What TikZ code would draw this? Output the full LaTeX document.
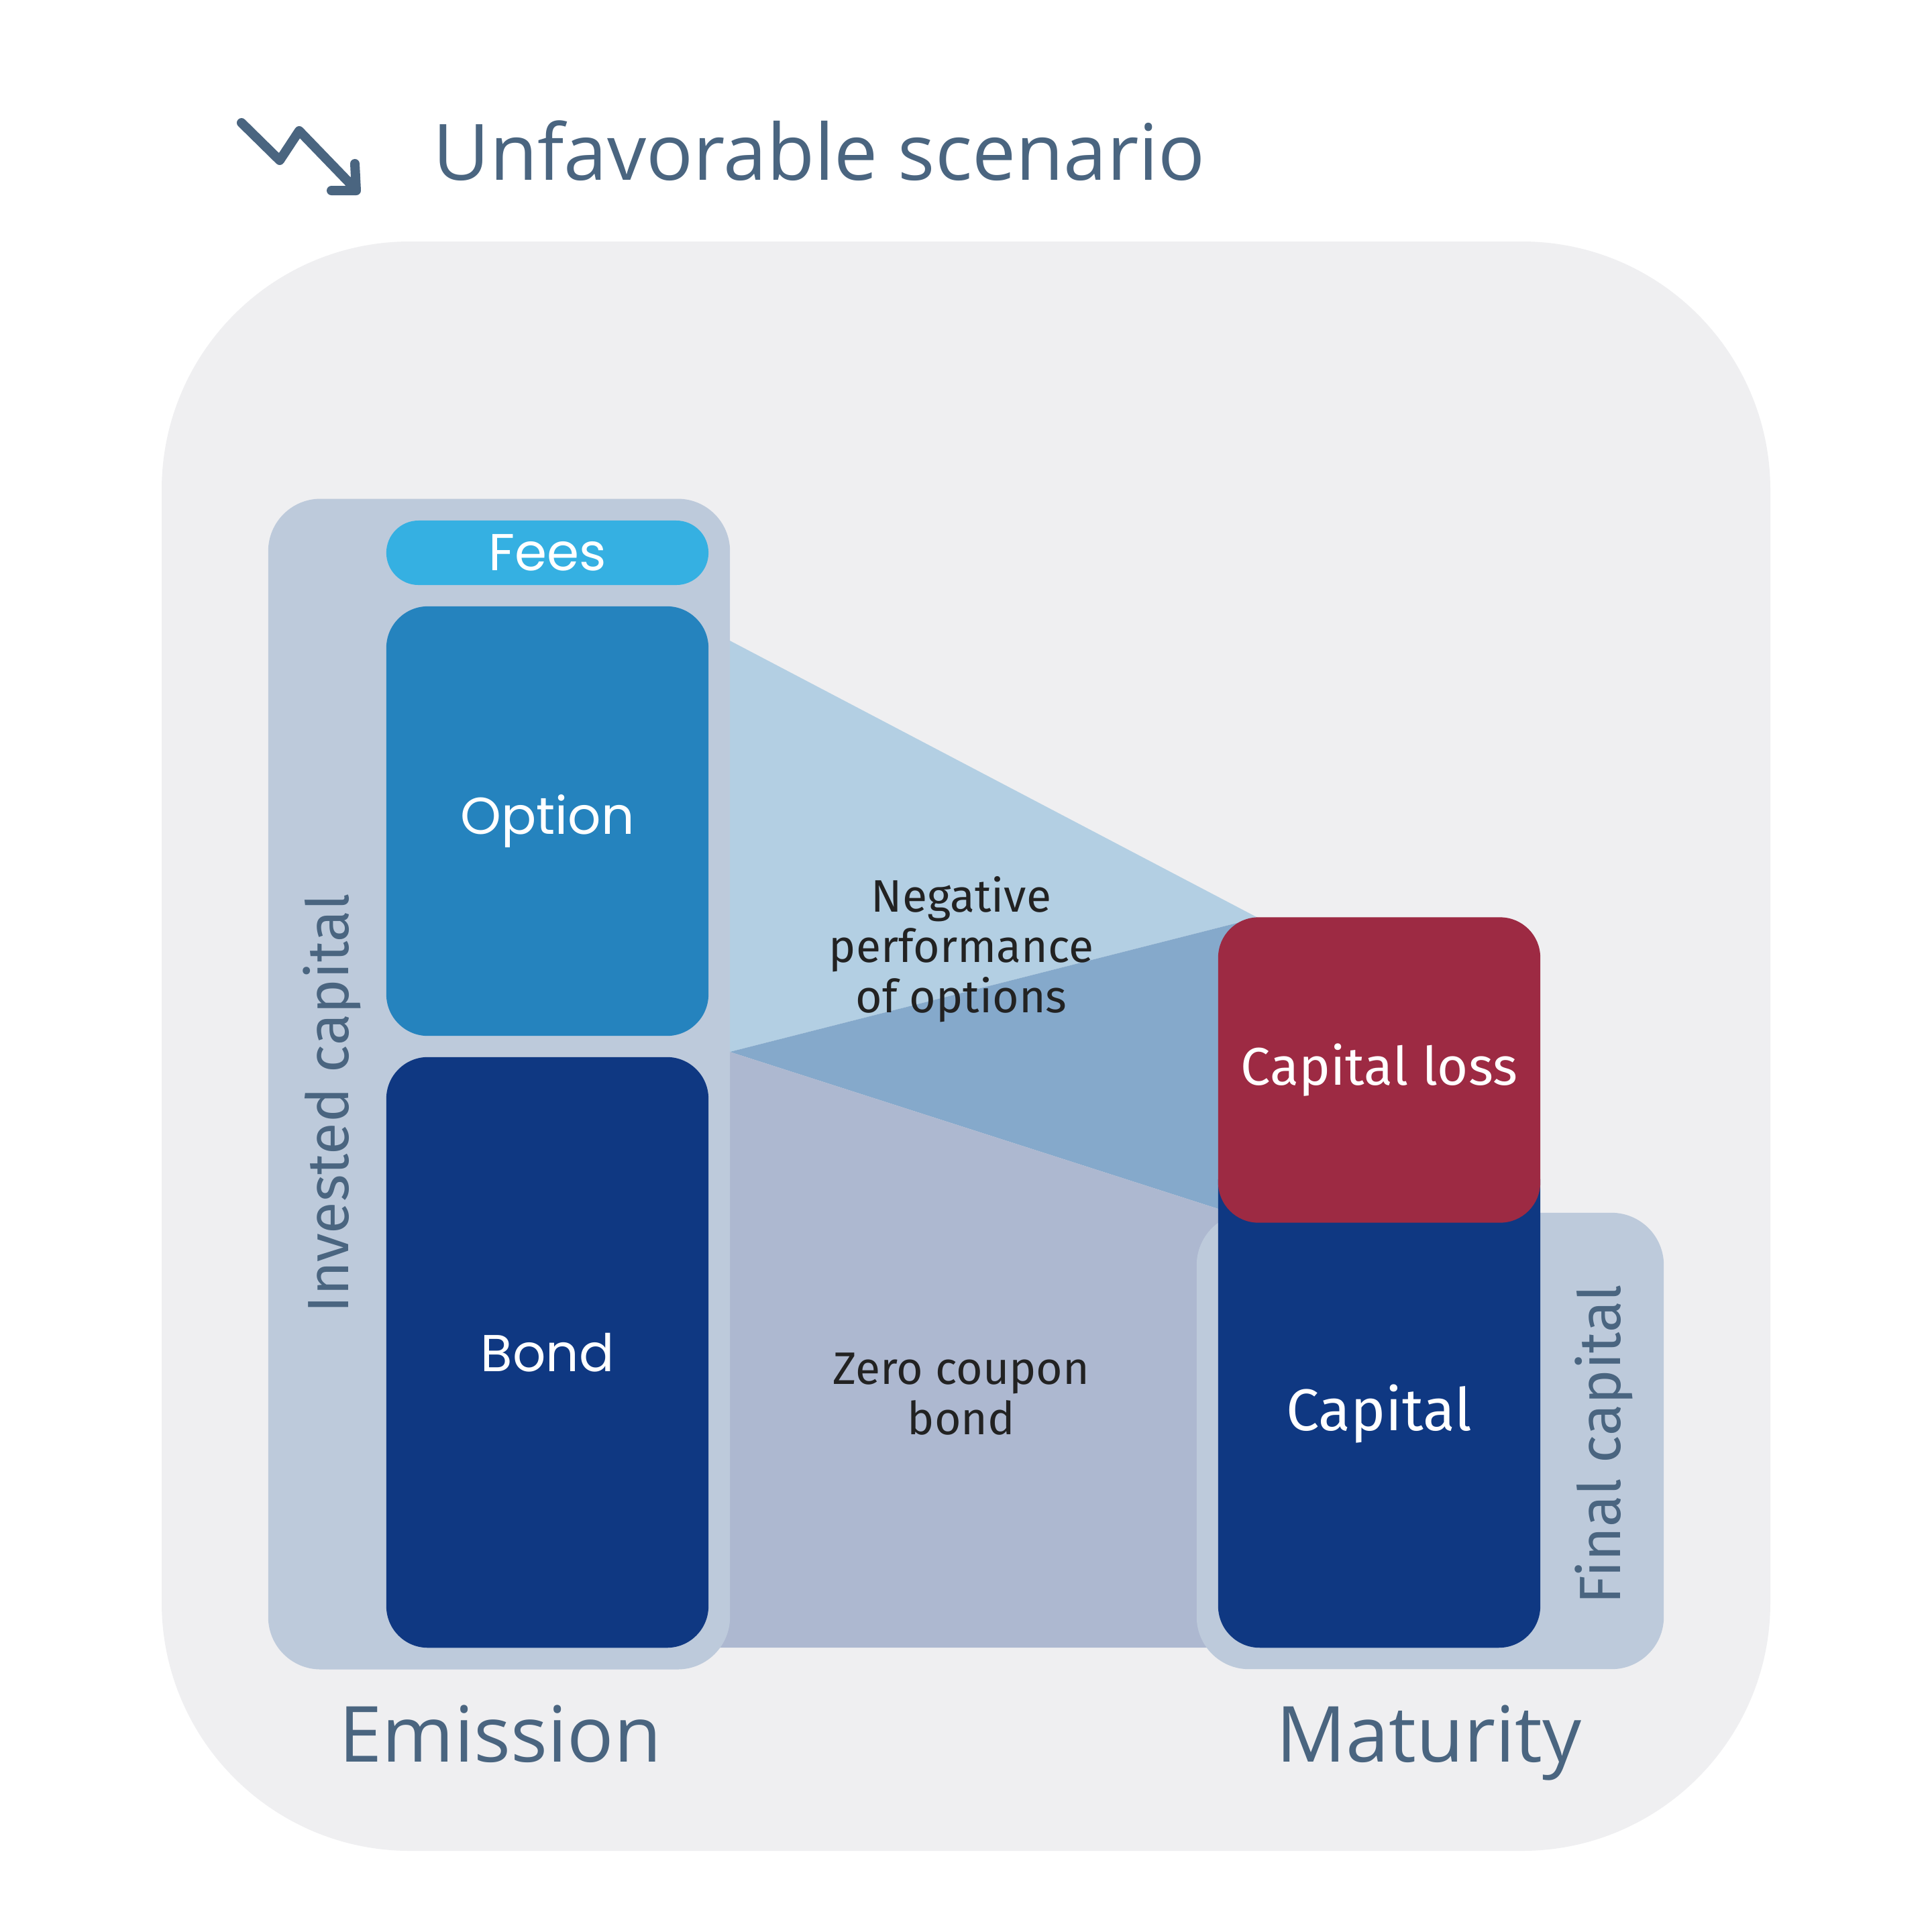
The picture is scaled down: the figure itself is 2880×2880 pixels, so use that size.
\documentclass[tikz,border=0pt]{standalone}
\usepackage{fontspec}
\setmainfont{Fira Sans}
\newfontfamily\headfont{Open Sans}
\newfontfamily\boxfont{Poppins}
\usetikzlibrary{positioning}
\definecolor{outerbg}{HTML}{EFEFF1}
\definecolor{panelblue}{HTML}{BDCADB}
\definecolor{feesblue}{HTML}{35B0E2}
\definecolor{optblue}{HTML}{2583BE}
\definecolor{navy}{HTML}{0F3882}
\definecolor{lossred}{HTML}{9D2A43}
\definecolor{flowlight}{HTML}{B3CFE3}
\definecolor{flowmid}{HTML}{85A9CB}
\definecolor{flowgray}{HTML}{ADB8D0}
\definecolor{slate}{HTML}{4A6580}
\definecolor{ink}{HTML}{222222}

\begin{document}
\begin{tikzpicture}[x=0.01cm, y=-0.01cm,
    pnl/.style={rectangle, inner sep=0pt, fill=panelblue, rounded corners=0.78cm},
    blk/.style={rectangle, inner sep=0pt, minimum width=4.8cm, rounded corners=0.62cm, text=white, font=\boxfont\fontsize{22}{26}\selectfont},
    boxtxt/.style={text=white, font=\fontsize{25}{30}\selectfont},
    side/.style={rotate=90, inner sep=0pt, text=slate, font=\fontsize{24.7}{30}\selectfont},
    note/.style={align=center, text=ink, font=\fontsize{19.3}{21.3}\selectfont},
    head/.style={inner sep=0pt, text=slate, font=\headfont\fontsize{32.8}{38}\selectfont}]
  \useasboundingbox (0,0) rectangle (2880,2880);
  \fill[white] (0,0) rectangle (2880,2880);
  \fill[outerbg, rounded corners=3.7cm] (241,360) rectangle (2639,2759);

  \draw[slate, line width=0.14cm, line cap=round, line join=round]
    (360,183) -- (417,239) -- (446,195) -- (531,283)
    (494,284) -- (531,284) -- (529,244);
  \node[head, anchor=base west, font=\headfont\fontsize{33}{38}\selectfont] (title) at (645,268) {Unfavorable scenario};

  \coordinate (optfrom) at (1088,955);
  \coordinate (split) at (1088,1568);
  \coordinate (losstop) at (1875,1368);
  \coordinate (lossfoot) at (1816,1802);
  \fill[flowlight] (optfrom) -- (losstop) -- (split) -- cycle;
  \fill[flowmid] (split) -- (losstop) -- (1875,1802) -- (lossfoot) -- cycle;
  \fill[flowgray] (split) -- (lossfoot) -- (1850,1802) -- (1850,2456) -- (1000,2456) -- (1000,1568) -- cycle;

  \node[pnl, minimum width=6.88cm, minimum height=17.44cm] (invested) at (744,1616) {};
  \node[pnl, minimum width=6.96cm, minimum height=6.8cm] (final) at (2132,2148) {};

  \node[blk, fill=feesblue, minimum height=0.96cm, rounded corners=0.48cm] (fees) at (816,824) {Fees};
  \node[blk, fill=optblue, minimum height=6.4cm] (option) at (816,1224) {Option};
  \node[blk, fill=navy, minimum height=8.8cm] (bond) at (816,2016) {Bond};
  \node[blk, fill=navy, minimum height=7.56cm] (capital) at (2056,2078) {};
  \node[boxtxt] (captext) at ([yshift=-0.3cm]capital.center) {Capital};
  \node[blk, fill=lossred, minimum height=4.55cm, rounded corners=0.6cm, font=\fontsize{22.5}{27}\selectfont] (caploss) at (2056,1595) {Capital loss};

  \node[side] (investedtxt) at (495,1645) {Invested capital};
  \node[side] (finaltxt) at (2391,2153) {Final capital};

  \node[note] (negperf) at (1433,1415) {Negative\\performance\\of options};
  \node[note] (zcb) at (1433,2078) {Zero coupon\\bond};

  \node[head, anchor=base] (emission) at (746,2626) {Emission};
  \node[head, anchor=base] (maturity) at (2130,2626) {Maturity};
\end{tikzpicture}
\end{document}
